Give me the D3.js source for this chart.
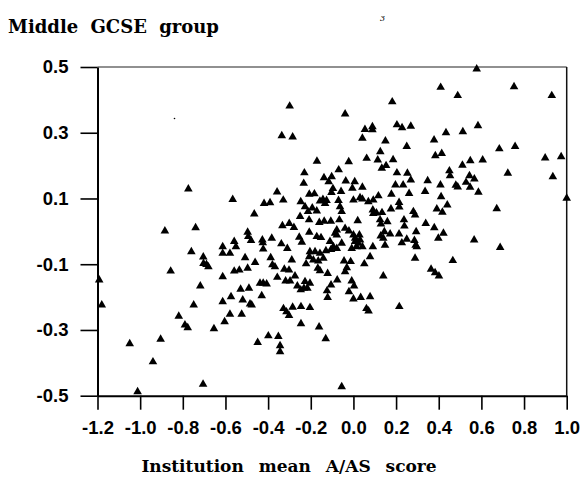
<!DOCTYPE html>
<html>
<head>
<meta charset="utf-8">
<script src="https://cdn.jsdelivr.net/npm/d3@7"></script>
<style>
  body { margin: 0; background: #fff; }
  svg { display: block; }
  .tick text { font-family: "Liberation Sans", Arial, sans-serif; font-weight: bold; font-size: 18.5px; fill: #000; }
  .ttl { font-family: "DejaVu Serif", serif; font-weight: bold; fill: #000; }
</style>
</head>
<body>
<div id="chart"></div>
<script>
// institution mean A/AS score (x) vs value for the middle GCSE group (y)
var xScore = [
  -0.774, -0.884, -0.740, -1.192, -1.180, -0.857, -0.760, -0.704, -0.703, -0.689, -0.680,
  -0.718, -0.749, -0.819, -0.790, -0.777, -0.654, -0.904, -1.049, -0.940, -1.012, -0.705,
  0.409,
  -0.299, -0.336, -0.285, -0.171, -0.230, -0.233, -0.138, -0.102, -0.116, -0.566, -0.358,
  -0.329, -0.419, -0.391, -0.247, -0.207, -0.183, -0.157, -0.143, -0.126, -0.133, -0.103,
  0.182, -0.039, 0.054, 0.089, 0.089, 0.042, 0.204, 0.228, 0.269, 0.150, 0.250, 0.126,
  0.378, 0.384, 0.414, -0.022, 0.062, 0.114, 0.186, 0.153, 0.133, -0.069, 0.204, 0.253,
  -0.036, 0.006, 0.269, 0.348, 0.197, 0.233, 0.408, -0.096, -0.058, -0.005, 0.042, 0.178,
  0.261, 0.336, 0.411, -0.070, 0.000, 0.031, 0.042, 0.117, 0.070, 0.093, 0.214,
  -0.227, -0.193, -0.172, -0.213, -0.208, -0.250, -0.160, -0.137, -0.106, -0.465, -0.333,
  -0.301, -0.279, -0.207, -0.254, -0.242, -0.172, -0.152, -0.496, -0.493, -0.480, -0.559,
  -0.551, -0.613, -0.613, -0.579, -0.427, -0.425, -0.383, -0.423, -0.338, -0.310, -0.204,
  -0.180, -0.157, -0.207, -0.188, -0.165, -0.141, -0.222, -0.508, -0.461, -0.388, -0.380,
  -0.368, -0.289, -0.559, -0.535, -0.496, -0.613, -0.324, -0.302, -0.357, -0.274, -0.167,
  -0.157, -0.121, -0.124, -0.121, -0.318, -0.297, -0.438, -0.423, -0.407, -0.227, -0.204,
  -0.263, -0.247, -0.232, -0.216, -0.529, -0.490, -0.430, -0.574, -0.519, -0.613, -0.485,
  -0.477, -0.328, -0.285, -0.246, -0.204, -0.129, -0.110, -0.105, -0.094, -0.078, -0.055,
  -0.105,
  -0.063, -0.055, 0.091, 0.093, 0.108, 0.134, 0.176, 0.215, 0.281, 0.289, 0.391, 0.417,
  -0.066, 0.020, 0.125, 0.129, 0.159, 0.237, 0.239, 0.339, 0.379, 0.422, 0.398, -0.078,
  -0.086, -0.078, -0.039, -0.021, 0.000, 0.008, 0.028, 0.031, 0.008, 0.023, -0.008, 0.015,
  0.042, 0.091, 0.128, 0.140, 0.145, 0.172, 0.148, 0.214, 0.227, 0.250, 0.294, 0.286,
  0.292, 0.297, 0.078, 0.289, -0.044, -0.013, 0.051, -0.031, -0.039, 0.364, 0.383, 0.401,
  -0.076, -0.008, 0.003, 0.140, -0.021, 0.000, 0.034, 0.078, 0.061, 0.215,
  -0.604, -0.579, -0.524, -0.314, -0.302, -0.246, -0.161, -0.130, 0.071, -0.449, -0.399,
  -0.352, -0.344, -0.344, -0.055,
  0.578, 0.753, 0.489, 0.930, 0.434, 0.513, 0.584, 0.684, 0.758, 0.899, 0.974, 0.511,
  0.548, 0.606, 0.450, 0.453, 0.724, 0.935, 0.544, 0.567, 0.528, 0.547, 0.480, 0.489,
  0.586, 0.440, 0.672, 1.000, 0.566, 0.688, 0.466
];
var yScore = [
  0.129, 0.001, 0.011, -0.148, -0.224, -0.121, -0.062, -0.078, -0.098, -0.101, -0.108,
  -0.166, -0.224, -0.258, -0.285, -0.293, -0.296, -0.328, -0.342, -0.397, -0.488, -0.465,
  0.438,
  0.381, 0.291, 0.287, 0.213, 0.178, 0.146, 0.163, 0.166, 0.151, 0.097, 0.120,
  0.095, 0.085, 0.087, 0.090, 0.113, 0.114, 0.092, 0.097, 0.094, 0.085, 0.118,
  0.394, 0.357, 0.310, 0.318, 0.309, 0.283, 0.324, 0.315, 0.320, 0.275, 0.258, 0.242,
  0.278, 0.230, 0.237, 0.212, 0.222, 0.217, 0.218, 0.200, 0.192, 0.187, 0.178, 0.177,
  0.153, 0.151, 0.156, 0.154, 0.141, 0.141, 0.141, 0.130, 0.121, 0.131, 0.134, 0.113,
  0.115, 0.121, 0.105, 0.094, 0.095, 0.102, 0.098, 0.108, 0.090, 0.095, 0.088,
  0.075, 0.071, 0.062, 0.060, 0.035, 0.045, 0.027, 0.031, 0.031, 0.053, 0.017,
  0.024, 0.012, -0.003, -0.018, -0.033, -0.016, -0.019, -0.003, -0.016, -0.028, -0.031,
  -0.047, -0.047, -0.067, -0.067, -0.026, -0.035, -0.021, -0.054, -0.038, -0.052, -0.062,
  -0.062, -0.067, -0.077, -0.087, -0.090, -0.082, -0.099, -0.080, -0.095, -0.080, -0.102,
  -0.108, -0.087, -0.121, -0.118, -0.112, -0.138, -0.115, -0.118, -0.140, -0.136, -0.112,
  -0.120, -0.128, -0.181, -0.201, -0.151, -0.151, -0.158, -0.158, -0.160, -0.153, -0.158,
  -0.166, -0.178, -0.173, -0.173, -0.176, -0.173, -0.196, -0.199, -0.209, -0.214, -0.221,
  -0.224, -0.235, -0.231, -0.229, -0.232, -0.059, -0.031, -0.055, -0.047, -0.052, -0.036,
  -0.163,
  0.075, 0.060, 0.065, 0.054, 0.056, 0.057, 0.068, 0.074, 0.060, 0.050, 0.068, 0.058,
  0.035, 0.032, 0.035, 0.022, 0.029, 0.035, 0.016, 0.024, 0.011, -0.006, -0.021, 0.004,
  -0.006, -0.011, 0.009, 0.001, -0.011, -0.021, -0.011, -0.026, -0.031, -0.036, -0.052, -0.047,
  -0.047, -0.047, -0.014, -0.021, -0.001, -0.008, -0.042, -0.008, -0.035, -0.024, -0.001, -0.028,
  -0.042, -0.047, -0.077, -0.082, -0.090, -0.092, -0.099, -0.111, -0.123, -0.115, -0.126, -0.136,
  -0.148, -0.151, -0.166, -0.136, -0.184, -0.206, -0.201, -0.199, -0.235, -0.229,
  -0.275, -0.252, -0.252, -0.245, -0.256, -0.281, -0.291, -0.327, -0.242, -0.338, -0.318,
  -0.320, -0.348, -0.366, -0.473,
  0.494, 0.440, 0.413, 0.413, 0.300, 0.303, 0.321, 0.251, 0.258, 0.223, 0.227, 0.201,
  0.215, 0.217, 0.184, 0.169, 0.177, 0.166, 0.169, 0.159, 0.149, 0.134, 0.140, 0.135,
  0.119, 0.080, 0.069, 0.101, -0.026, -0.049, -0.089
];

var xTicks = [-1.2, -1.0, -0.8, -0.6, -0.4, -0.2, 0.0, 0.2, 0.4, 0.6, 0.8, 1.0];
var xTickLabels = ["-1.2", "-1.0", "-0.8", "-0.6", "-0.4", "-0.2", "0.0", "0.2", "0.4", "0.6", "0.8", "1.0"];
var yTicks = [0.5, 0.3, 0.1, -0.1, -0.3, -0.5];
var yTickLabels = ["0.5", "0.3", "0.1", "-0.1", "-0.3", "-0.5"];

var titleText = "Middle GCSE group";
var xTitleText = "Institution mean A/AS score";

var margin = { top: 67, right: 13.3, bottom: 102.3, left: 97.5 },
  width = 580 - margin.left - margin.right,
  height = 498 - margin.top - margin.bottom;

var data = xScore.map(function (d, i) { return { x: d, y: yScore[i] } });

var svg = d3.select("#chart")
  .append("svg")
  .attr("width", 580)
  .attr("height", 498);

var g = svg.append("g")
  .attr("transform", "translate(" + margin.left + "," + margin.top + ")");

var x = d3.scaleLinear()
  .domain([-1.2, 1.0])
  .range([0, width]);

var y = d3.scaleLinear()
  .domain([-0.5, 0.5])
  .range([height, 0]);

// top and right frame lines (thin, like the scan)
g.append("line")
  .attr("x1", 0).attr("x2", width).attr("y1", 0).attr("y2", 0)
  .attr("stroke", "#222").attr("stroke-width", 1.2);
g.append("line")
  .attr("x1", width).attr("x2", width).attr("y1", 0).attr("y2", height)
  .attr("stroke", "#111").attr("stroke-width", 1.5);

// x axis
var xAxis = g.append("g")
  .attr("transform", "translate(0," + height + ")")
  .call(d3.axisBottom(x)
    .tickValues(xTicks)
    .tickFormat(function (d, i) { return xTickLabels[i] })
    .tickSizeInner(14)
    .tickSizeOuter(0)
    .tickPadding(11));
xAxis.select(".domain").attr("stroke", "#000").attr("stroke-width", 2);
xAxis.selectAll(".tick line").attr("stroke", "#000").attr("stroke-width", 1.6);

// y axis
var yAxis = g.append("g")
  .call(d3.axisLeft(y)
    .tickValues(yTicks)
    .tickFormat(function (d, i) { return yTickLabels[i] })
    .tickSizeInner(17)
    .tickSizeOuter(0)
    .tickPadding(12));
yAxis.select(".domain").attr("stroke", "#000").attr("stroke-width", 2);
yAxis.selectAll(".tick line").attr("stroke", "#000").attr("stroke-width", 1.6);

// points
g.selectAll(".pt")
  .data(data)
  .enter()
  .append("path")
  .attr("class", "pt")
  .attr("d", d3.symbol().type(d3.symbolTriangle).size(32))
  .attr("transform", function (d) { return "translate(" + x(d.x) + "," + y(d.y) + ")" })
  .attr("fill", "#000");

// titles
svg.append("text")
  .attr("class", "ttl")
  .attr("x", 8)
  .attr("y", 33)
  .attr("font-size", 18)
  .attr("word-spacing", 6)
  .text(titleText);

svg.append("text")
  .attr("class", "ttl")
  .attr("x", 289)
  .attr("y", 472)
  .attr("text-anchor", "middle")
  .attr("font-size", 17)
  .attr("word-spacing", 9)
  .text(xTitleText);

// scan specks
svg.append("text")
  .attr("x", 380).attr("y", 21)
  .attr("font-family", "DejaVu Serif").attr("font-size", 8).attr("font-style", "italic")
  .text("3");
svg.append("circle").attr("cx", 174.5).attr("cy", 118.5).attr("r", 0.8).attr("fill", "#000");
</script>
</body>
</html>
